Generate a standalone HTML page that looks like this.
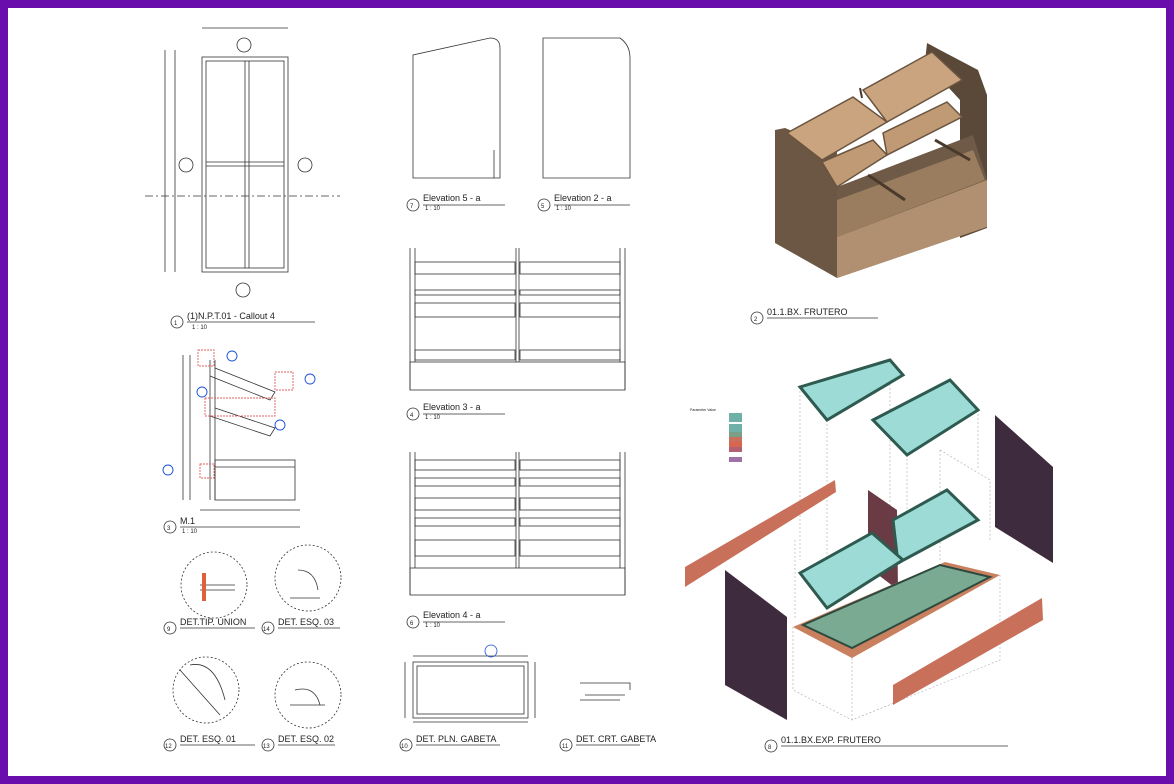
<!DOCTYPE html>
<html><head><meta charset="utf-8"><style>
html,body{margin:0;padding:0;background:#fff}
svg{display:block}
text{font-family:"Liberation Sans",sans-serif;fill:#222}
</style></head><body>
<svg width="1174" height="784" viewBox="0 0 1174 784" xmlns="http://www.w3.org/2000/svg">
<rect x="0" y="0" width="1174" height="784" fill="#6a0dad"/>
<rect x="8" y="8" width="1158" height="768" fill="#fff"/>
<g fill="none" stroke="#333" stroke-width="0.8">
<rect x="202" y="57" width="86" height="215"/>
<rect x="206" y="61" width="78" height="207"/>
<line x1="245" y1="61" x2="245" y2="268"/><line x1="249" y1="61" x2="249" y2="268"/>
<line x1="206" y1="162" x2="284" y2="162"/><line x1="206" y1="166" x2="284" y2="166"/>
<line x1="165" y1="50" x2="165" y2="272"/><line x1="175" y1="50" x2="175" y2="272"/>
<line x1="202" y1="28" x2="288" y2="28"/>
<line x1="145" y1="196" x2="340" y2="196" stroke-dasharray="8 3 2 3"/>
<circle cx="244" cy="45" r="7"/><circle cx="186" cy="165" r="7"/><circle cx="305" cy="165" r="7"/><circle cx="243" cy="290" r="7"/>
<line x1="187" y1="322" x2="315" y2="322"/><circle cx="177" cy="322" r="6"/>
<path d="M413 55 L413 178 L500 178 L500 48 Q500 38 490 38 Z"/>
<line x1="494" y1="150" x2="494" y2="178"/>
<path d="M543 38 L620 38 Q630 45 630 58 L630 178 L543 178 Z"/>
<circle cx="413" cy="205" r="6"/><line x1="423" y1="205" x2="505" y2="205"/>
<circle cx="544" cy="205" r="6"/><line x1="554" y1="205" x2="630" y2="205"/>
<line x1="410" y1="248" x2="410" y2="390"/><line x1="625" y1="248" x2="625" y2="390"/>
<line x1="415" y1="248" x2="415" y2="362"/><line x1="620" y1="248" x2="620" y2="362"/>
<line x1="516" y1="248" x2="516" y2="362"/><line x1="519" y1="248" x2="519" y2="362"/>
<rect x="410" y="362" width="215" height="28"/>
<rect x="415" y="262" width="100" height="12"/><rect x="520" y="262" width="100" height="12"/>
<rect x="415" y="290" width="100" height="5"/><rect x="520" y="290" width="100" height="5"/>
<rect x="415" y="303" width="100" height="14"/><rect x="520" y="303" width="100" height="14"/>
<rect x="415" y="350" width="100" height="10"/><rect x="520" y="350" width="100" height="10"/>
<circle cx="413" cy="414" r="6"/><line x1="423" y1="414" x2="505" y2="414"/>
<line x1="410" y1="452" x2="410" y2="595"/><line x1="625" y1="452" x2="625" y2="595"/>
<line x1="415" y1="452" x2="415" y2="568"/><line x1="620" y1="452" x2="620" y2="568"/>
<line x1="516" y1="452" x2="516" y2="568"/><line x1="519" y1="452" x2="519" y2="568"/>
<rect x="410" y="568" width="215" height="27"/>
<rect x="415" y="460" width="100" height="10"/><rect x="520" y="460" width="100" height="10"/>
<rect x="415" y="478" width="100" height="8"/><rect x="520" y="478" width="100" height="8"/>
<rect x="415" y="498" width="100" height="12"/><rect x="520" y="498" width="100" height="12"/>
<rect x="415" y="518" width="100" height="8"/><rect x="520" y="518" width="100" height="8"/>
<rect x="415" y="540" width="100" height="16"/><rect x="520" y="540" width="100" height="16"/>
<circle cx="413" cy="622" r="6"/><line x1="423" y1="622" x2="505" y2="622"/>
<line x1="183" y1="355" x2="183" y2="500"/><line x1="190" y1="355" x2="190" y2="500"/>
<line x1="210" y1="360" x2="210" y2="500"/><line x1="215" y1="360" x2="215" y2="500"/>
<path d="M215 368 L275 392 L270 400 L210 376"/>
<path d="M215 408 L275 428 L270 436 L210 416"/>
<rect x="215" y="460" width="80" height="40"/>
<line x1="215" y1="467" x2="295" y2="467"/>
<line x1="200" y1="510" x2="300" y2="510"/>
<circle cx="170" cy="527" r="6"/><line x1="180" y1="527" x2="300" y2="527"/>
<circle cx="214" cy="585" r="33" stroke-dasharray="2 2"/>
<circle cx="308" cy="578" r="33" stroke-dasharray="2 2"/>
<circle cx="206" cy="690" r="33" stroke-dasharray="2 2"/>
<circle cx="308" cy="695" r="33" stroke-dasharray="2 2"/>
<path d="M200 585 L235 585 M200 590 L235 590"/>
<path d="M298 570 Q315 570 318 590 M290 598 L320 598"/>
<path d="M180 670 L220 715 M190 665 Q215 660 225 700"/>
<path d="M295 690 Q315 685 320 705 M290 705 L325 705"/>
<circle cx="170" cy="628" r="6"/><line x1="180" y1="628" x2="255" y2="628"/>
<circle cx="268" cy="628" r="6"/><line x1="278" y1="628" x2="340" y2="628"/>
<circle cx="170" cy="745" r="6"/><line x1="180" y1="745" x2="255" y2="745"/>
<circle cx="268" cy="745" r="6"/><line x1="278" y1="745" x2="335" y2="745"/>
<rect x="413" y="662" width="115" height="56"/><rect x="417" y="666" width="107" height="48"/>
<line x1="413" y1="656" x2="528" y2="656"/><line x1="413" y1="722" x2="528" y2="722"/>
<line x1="405" y1="662" x2="405" y2="718"/><line x1="535" y1="662" x2="535" y2="718"/>
<circle cx="491" cy="651" r="6" stroke="#1a4fd6"/>
<circle cx="406" cy="745" r="6"/><line x1="416" y1="745" x2="500" y2="745"/>
<path d="M580 683 L630 683 L630 690 M585 695 L625 695 M580 700 L620 700"/>
<circle cx="566" cy="745" r="6"/><line x1="576" y1="745" x2="640" y2="745"/>
<circle cx="757" cy="318" r="6"/><line x1="767" y1="318" x2="878" y2="318"/>
<circle cx="771" cy="746" r="6"/><line x1="781" y1="746" x2="1008" y2="746"/>
</g>
<g fill="none" stroke="#1a4fd6" stroke-width="0.9">
<circle cx="232" cy="356" r="5"/><circle cx="202" cy="392" r="5"/><circle cx="310" cy="379" r="5"/><circle cx="280" cy="425" r="5"/><circle cx="168" cy="470" r="5"/>
</g>
<g fill="none" stroke="#e06060" stroke-width="0.9">
<rect x="198" y="350" width="16" height="16" stroke-dasharray="2 1"/><rect x="275" y="372" width="18" height="18" stroke-dasharray="2 1"/>
<rect x="205" y="398" width="70" height="18" stroke-dasharray="2 1"/><rect x="200" y="464" width="14" height="14" stroke-dasharray="2 1"/>
</g>
<rect x="202" y="573" width="4" height="28" fill="#e0603a"/>
<g font-size="9">
<text x="187" y="319">(1)N.P.T.01 - Callout 4</text>
<text x="423" y="201">Elevation 5 - a</text>
<text x="554" y="201">Elevation 2 - a</text>
<text x="423" y="410">Elevation 3 - a</text>
<text x="423" y="618">Elevation 4 - a</text>
<text x="180" y="524">M.1</text>
<text x="180" y="625">DET.TIP. UNION</text>
<text x="278" y="625">DET. ESQ. 03</text>
<text x="180" y="742">DET. ESQ. 01</text>
<text x="278" y="742">DET. ESQ. 02</text>
<text x="416" y="742">DET. PLN. GABETA</text>
<text x="576" y="742">DET. CRT. GABETA</text>
<text x="767" y="315">01.1.BX. FRUTERO</text>
<text x="781" y="743">01.1.BX.EXP. FRUTERO</text>
</g>
<g font-size="6">
<text x="174" y="325">1</text><text x="410" y="208">7</text><text x="541" y="208">5</text><text x="410" y="417">4</text><text x="410" y="625">6</text><text x="167" y="530">3</text>
<text x="167" y="631">9</text><text x="263" y="631">14</text><text x="165" y="748">12</text><text x="263" y="748">13</text><text x="401" y="748">10</text><text x="562" y="748">11</text>
<text x="754" y="321">2</text><text x="768" y="749">8</text>
<text x="192" y="329">1 : 10</text><text x="425" y="210">1 : 10</text><text x="556" y="210">1 : 10</text><text x="425" y="419">1 : 10</text><text x="425" y="627">1 : 10</text><text x="182" y="533">1 : 10</text>
</g>
<!-- 3D cabinet -->
<polygon points="925,62 927,43 940,50 978,70 987,95 987,228 960,238 960,100" fill="#5a4838"/>
<polygon points="837,187 973,135 987,180 987,227 837,278" fill="#6e5a46"/>
<polygon points="837,200 973,150 985,180 837,237" fill="#9a7c5e"/>
<polygon points="837,237 987,180 987,227 837,278" fill="#b09070"/>
<line x1="868" y1="175" x2="905" y2="200" stroke="#4a3a2c" stroke-width="3"/>
<line x1="935" y1="140" x2="970" y2="160" stroke="#4a3a2c" stroke-width="3"/>
<polygon points="775,130 785,128 837,150 837,278 775,243" fill="#6b5744"/>
<polygon points="787,133 853,97 887,122 822,160" fill="#c9a47e" stroke="#6a5440" stroke-width="1.5"/>
<polygon points="863,90 932,52 962,80 887,122" fill="#c9a47e" stroke="#6a5440" stroke-width="1.5"/>
<polygon points="822,162 873,140 887,155 837,187" fill="#bf9a74" stroke="#6a5440" stroke-width="1.5"/>
<polygon points="883,133 947,102 962,117 887,155" fill="#bf9a74" stroke="#6a5440" stroke-width="1.5"/>
<line x1="860" y1="88" x2="862" y2="98" stroke="#4a3a2c" stroke-width="2"/>
<!-- exploded -->
<g fill="none" stroke="#aaa" stroke-width="0.6" stroke-dasharray="2 2">
<path d="M800,387 L800,560 M890,360 L890,530 M827,420 L827,600 M907,455 L907,540 M978,410 L978,470 M793,627 L793,690 L852,720 L1000,660 L1000,575 M852,658 L852,720 M940,450 L940,560 M940,450 L990,480 L990,540 M795,540 L795,620"/>
</g>
<polygon points="685,567 835,480 836,492 685,587" fill="#c8705a"/>
<polygon points="893,685 1042,598 1043,620 893,705" fill="#c8705a"/>
<polygon points="725,570 787,617 787,720 725,685" fill="#3f2b3e"/>
<polygon points="995,415 1053,467 1053,563 995,527" fill="#3f2b3e"/>
<polygon points="868,490 897,510 898,590 868,567" fill="#6a3a45"/>
<polygon points="793,627 945,562 1000,575 852,658" fill="#c8805f"/>
<polygon points="803,625 940,565 990,577 852,648" fill="#7aaa92" stroke="#2e4a40" stroke-width="2"/>
<polygon points="800,387 890,360 903,375 827,420" fill="#9ddcd6" stroke="#2e5a50" stroke-width="3"/>
<polygon points="873,420 950,380 978,410 907,455" fill="#9ddcd6" stroke="#2e5a50" stroke-width="3"/>
<polygon points="893,520 947,490 978,520 898,563" fill="#9ddcd6" stroke="#2e5a50" stroke-width="3"/>
<polygon points="800,573 872,533 903,560 827,608" fill="#9ddcd6" stroke="#2e5a50" stroke-width="3"/>
<g font-size="3.5"><text x="690" y="411">Parameter Value</text></g>
<rect x="729" y="413" width="13" height="9" fill="#6fb0a8"/>
<rect x="729" y="424" width="13" height="9" fill="#6fb0a8"/>
<rect x="729" y="432" width="13" height="5" fill="#7a9e88"/>
<rect x="729" y="437" width="13" height="5" fill="#c8705a"/>
<rect x="729" y="442" width="13" height="5" fill="#d8654f"/>
<rect x="729" y="447" width="13" height="5" fill="#b06070"/>
<rect x="729" y="457" width="13" height="5" fill="#a070a8"/>
</svg>
</body></html>
